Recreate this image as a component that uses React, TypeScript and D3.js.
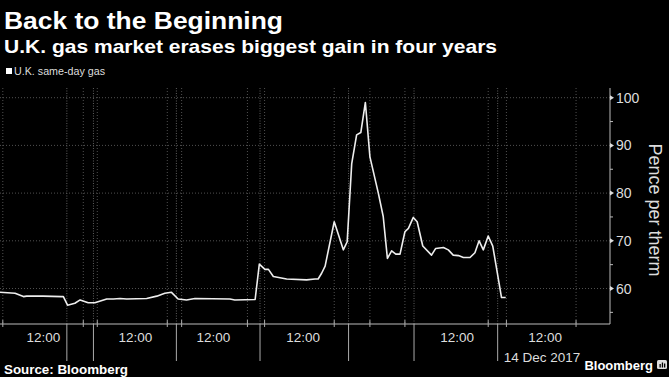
import React from "react";
import * as d3 from "d3";

// Hours along a compressed trading-time axis
const times = [0, 4.3, 6.7, 7.6, 12.3, 17.6, 18.1, 19.3, 21.4, 22.9, 25.2, 27.1, 30.5, 32.4, 34.3, 36.2, 41.9, 44.8, 47.1, 49.0, 50.9, 53.3, 55.7, 65.7, 67.1, 72.9, 74.1, 75.7, 76.7, 78.1, 81.9, 87.6, 90.0, 90.9, 91.9, 92.9, 95.5, 98.1, 99.2, 100.5, 101.9, 103.1, 104.4, 105.7, 108.1, 109.5, 110.7, 111.9, 113.1, 114.3, 115.7, 116.7, 118.1, 119.2, 120.8, 123.3, 124.5, 126.7, 128.1, 129.5, 131.0, 132.4, 134.3, 135.7, 136.9, 138.1, 139.5, 140.8, 143.3, 144.5];
const prices = [59.2, 59.0, 58.3, 58.4, 58.4, 58.3, 58.3, 56.5, 56.9, 57.6, 57.0, 57.0, 57.8, 57.8, 57.9, 57.8, 57.9, 58.4, 59.0, 59.2, 57.8, 57.6, 57.9, 57.8, 57.6, 57.7, 65.1, 64.0, 64.0, 62.5, 62.0, 61.8, 62.0, 62.0, 63.2, 64.7, 74.0, 68.1, 69.8, 86.2, 92.2, 92.7, 99.0, 87.6, 80.0, 75.1, 66.3, 67.9, 67.2, 67.2, 71.9, 72.6, 74.9, 74.0, 68.9, 67.0, 68.4, 68.6, 68.1, 67.0, 66.9, 66.5, 66.5, 67.5, 70.0, 68.1, 71.0, 68.9, 58.1, 58.1];

const dayBreaks = [19.1, 26.7, 50.4, 74.3, 99.6, 118.3, 142.2];
const minorTicks = [0.8, 23.8, 27.8, 47.8, 51.9, 70.7, 75.6, 95.5, 105.7, 115.7, 139.5, 144.7, 164.6];
const noonLabels = [12.4, 38.7, 61.0, 86.6, 130.6, 155.8];
const noonText = "12:00";
const dateLabel = "14 Dec 2017";
const yTicks = [60, 70, 80, 90, 100];
const yMinor = [55, 65, 75, 85, 95];

const title = "Back to the Beginning";
const subtitle = "U.K. gas market erases biggest gain in four years";
const seriesName = "U.K. same-day gas";
const yTitle = "Pence per therm";
const source = "Source: Bloomberg";

const W = 669;
const H = 377;
const plot = { left: 0, right: 610, top: 88, bottom: 324 };

export default function App() {
  const x = d3.scaleLinear().domain([0, 174.3]).range([plot.left, plot.right]);
  const y = d3.scaleLinear().domain([100, 60]).range([97.7, 288.5]);

  const line = d3
    .line<number>()
    .x((_, i) => x(times[i]))
    .y((d) => y(d));

  const font = "'Liberation Sans', Arial, sans-serif";
  const grid = "#505050";

  return (
    <svg
      width={W}
      height={H}
      style={{ position: "absolute", left: 0, top: 0, display: "block", background: "#000" }}
      fontFamily={font}
    >
      <rect x={0} y={0} width={W} height={H} fill="#000" />
      <text x={4} y={29} fill="#fff" fontSize={24} fontWeight="bold" textLength={279} lengthAdjust="spacingAndGlyphs">
        {title}
      </text>
      <text x={4} y={53} fill="#fff" fontSize={19} fontWeight="bold" textLength={493} lengthAdjust="spacingAndGlyphs">
        {subtitle}
      </text>
      <rect x={6} y={68} width={6} height={6} fill="#fff" />
      <text x={14} y={75} fill="#ddd" fontSize={11} textLength={91} lengthAdjust="spacingAndGlyphs">
        {seriesName}
      </text>

      {/* horizontal gridlines */}
      {yTicks.map((t) => (
        <line key={"hg" + t} x1={plot.left} x2={plot.right} y1={y(t)} y2={y(t)} stroke={grid} strokeWidth={1} strokeDasharray="1,2" />
      ))}
      {/* vertical gridlines */}
      {minorTicks.map((t) => (
        <line key={"vg" + t} x1={x(t)} x2={x(t)} y1={plot.top} y2={plot.bottom} stroke={grid} strokeWidth={1} strokeDasharray="1,2" />
      ))}
      {dayBreaks.map((t) => (
        <line key={"db" + t} x1={x(t)} x2={x(t)} y1={plot.top} y2={plot.bottom} stroke="#5e5e5e" strokeWidth={1} strokeDasharray="1,1.5" />
      ))}

      {/* series line */}
      <path d={line(prices) || ""} fill="none" stroke="#eee" strokeWidth={1.6} strokeLinejoin="round" />

      {/* x axis */}
      <line x1={plot.left} x2={plot.right} y1={plot.bottom} y2={plot.bottom} stroke="#bbb" strokeWidth={1} />
      {dayBreaks.map((t) => (
        <line key={"dt" + t} x1={x(t)} x2={x(t)} y1={plot.bottom} y2={361} stroke="#aaa" strokeWidth={1} />
      ))}
      {minorTicks.map((t) => (
        <line key={"mt" + t} x1={x(t)} x2={x(t)} y1={plot.bottom - 4} y2={plot.bottom + 3} stroke="#aaa" strokeWidth={1} />
      ))}
      {noonLabels.map((t) => (
        <text key={"nl" + t} x={x(t)} y={342} fill="#ddd" fontSize={13.5} textAnchor="middle">
          {noonText}
        </text>
      ))}
      <text x={x(dayBreaks[dayBreaks.length - 1]) + 6} y={362} fill="#ddd" fontSize={13.5}>
        {dateLabel}
      </text>

      {/* y axis */}
      <line x1={plot.right} x2={plot.right} y1={plot.top} y2={plot.bottom} stroke="#bbb" strokeWidth={1} />
      {yMinor.map((t) => (
        <line key={"ym" + t} x1={plot.right} x2={plot.right + 3} y1={y(t)} y2={y(t)} stroke="#bbb" strokeWidth={1} />
      ))}
      {yTicks.map((t) => (
        <g key={"yt" + t}>
          <path d={`M${plot.right},${y(t) - 2.5}L${plot.right + 4},${y(t)}L${plot.right},${y(t) + 2.5}Z`} fill="#ddd" />
          <text x={plot.right + 6} y={y(t) + 5} fill="#ddd" fontSize={14}>
            {t}
          </text>
        </g>
      ))}
      <text
        transform={`translate(649, ${(plot.top + plot.bottom) / 2 + 4}) rotate(90)`}
        fill="#ddd"
        fontSize={18}
        textAnchor="middle"
      >
        {yTitle}
      </text>

      {/* footer */}
      <text x={4} y={374} fill="#fff" fontSize={13} fontWeight="bold" textLength={124} lengthAdjust="spacingAndGlyphs">
        {source}
      </text>
      <text x={653} y={370} fill="#fff" fontSize={13} fontWeight="bold" textAnchor="end">
        Bloomberg
      </text>
      <rect x={657} y={360} width={10} height={9} rx={1.5} fill="#ddd" />
      <rect x={659.5} y={364} width={1.3} height={3.5} fill="#000" />
      <rect x={661.8} y={362.5} width={1.3} height={5} fill="#000" />
      <rect x={664} y={363.5} width={1.3} height={4} fill="#000" />
    </svg>
  );
}
